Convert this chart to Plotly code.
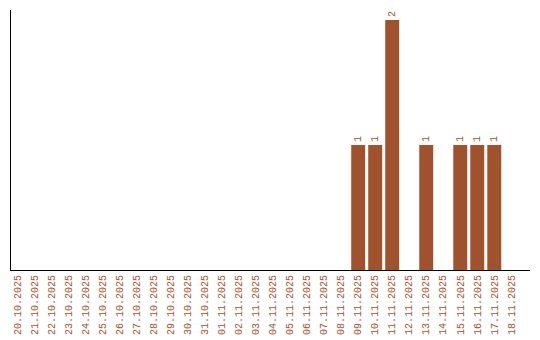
import plotly.graph_objects as go

dates = ["20.10.2025","21.10.2025","22.10.2025","23.10.2025","24.10.2025","25.10.2025",
         "26.10.2025","27.10.2025","28.10.2025","29.10.2025","30.10.2025","31.10.2025",
         "01.11.2025","02.11.2025","03.11.2025","04.11.2025","05.11.2025","06.11.2025",
         "07.11.2025","08.11.2025","09.11.2025","10.11.2025","11.11.2025","12.11.2025",
         "13.11.2025","14.11.2025","15.11.2025","16.11.2025","17.11.2025","18.11.2025"]
counts = [0,0,0,0,0,0,0,0,0,0,0,0,0,0,0,0,0,0,0,0,1,1,2,0,1,0,1,1,1,0]
labels = [str(c) if c else "" for c in counts]

color = "#A0522D"
font = "Liberation Mono, monospace"

fig = go.Figure(go.Bar(
    x=dates, y=counts, text=labels, textposition="outside", textangle=-90,
    marker_color=color, marker_line_width=0,
    textfont=dict(family=font, size=10, color=color), cliponaxis=False,
))
fig.update_layout(
    width=540, height=340, margin=dict(l=11, r=10, t=10, b=70),
    plot_bgcolor="white", paper_bgcolor="white", bargap=0.18, showlegend=False,
    font=dict(family=font, size=10, color=color),
)
fig.update_xaxes(type="category", range=[-0.41, 30.1], tickangle=-90, automargin=False,
                 showline=True, linecolor="black", linewidth=1, showgrid=False,
                 ticks="", tickfont=dict(family=font, size=10, color=color))
fig.update_yaxes(range=[0, 2.08], showline=True, linecolor="black", linewidth=1,
                 showgrid=False, zeroline=False, showticklabels=False, ticks="")
fig.write_html("out.html")
